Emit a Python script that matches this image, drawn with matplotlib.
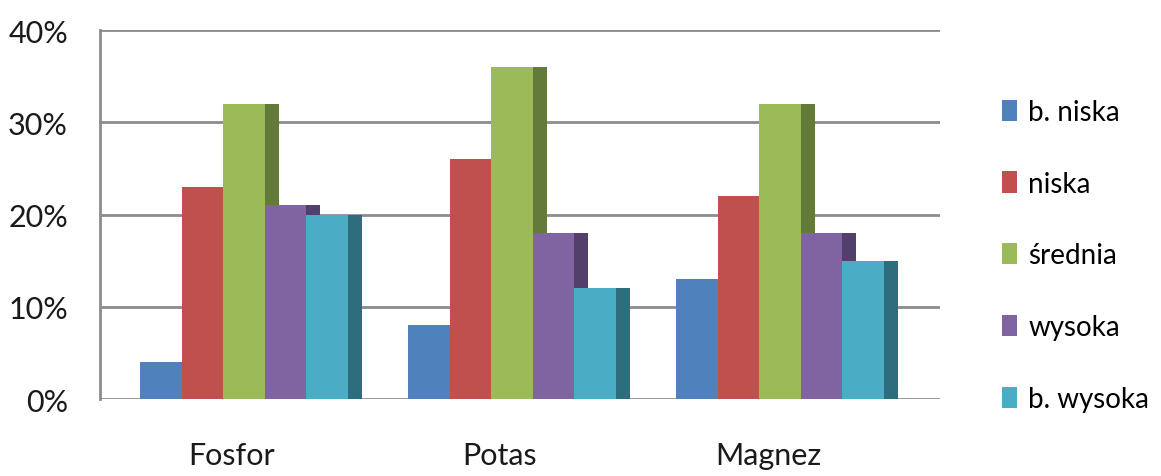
#!/usr/bin/env python3
"""Grouped pseudo-3D bar chart: nutrient content classes (Fosfor / Potas / Magnez)."""

import matplotlib

matplotlib.use("Agg")
import matplotlib.pyplot as plt
import numpy as np
from matplotlib.patches import Patch
from matplotlib.ticker import FuncFormatter

categories = ["Fosfor", "Potas", "Magnez"]
series = ["b. niska", "niska", "średnia", "wysoka", "b. wysoka"]
b_niska = [4, 8, 13]
niska = [23, 26, 22]
srednia = [32, 36, 32]
wysoka = [21, 18, 18]
b_wysoka = [20, 12, 15]
values = [b_niska, niska, srednia, wysoka, b_wysoka]
yticks = [0, 10, 20, 30, 40]

front_colors = ["#4F81BD", "#C0504D", "#9BBB59", "#8064A2", "#4BACC6"]
side_colors = ["#2F4D71", "#73302E", "#647A39", "#523F6C", "#2E6D7E"]

plt.rcParams["font.family"] = ["Lato", "DejaVu Sans"]

fig = plt.figure(figsize=(11.61, 4.77), dpi=100)
ax = fig.add_axes([0.0861, 0.1614, 0.7235, 0.7736])

x = np.arange(len(categories))
width = 0.155
depth = 0.052
shift = 0.045  # bars sit a bit right of the category label
start = x + shift - 2.5 * width

for i, (vals, fc, sc) in enumerate(zip(values, front_colors, side_colors)):
    left = start + i * width
    # side face first, next series' front covers it
    ax.bar(left + width, vals, width=depth, align="edge", color=sc,
           edgecolor="none", zorder=3 + i)
    ax.bar(left, vals, width=width, align="edge", color=fc,
           edgecolor="none", zorder=3 + i, label=series[i])

ax.set_ylim(0, 40)
ax.set_xlim(-0.4925, 2.642)
ax.set_yticks(yticks)
ax.yaxis.set_major_formatter(FuncFormatter(lambda v, _: f"{v:.0f}%"))
ax.set_xticks(x)
ax.set_xticklabels(categories)
ax.grid(axis="y", color="#8C8C8C", linewidth=2, zorder=0)
ax.set_axisbelow(True)

for s in ("top", "right", "bottom"):
    ax.spines[s].set_visible(False)
ax.spines["left"].set_color("#8C8C8C")
ax.spines["left"].set_linewidth(2)
ax.tick_params(axis="both", length=0, labelsize=22, colors="#1a1a1a")
ax.tick_params(axis="y", pad=23)
ax.tick_params(axis="x", pad=30)

handles = [Patch(facecolor=c, edgecolor="none", label=s) for c, s in zip(front_colors, series)]
fig.legend(handles=handles, loc="center left", bbox_to_anchor=(0.863, 0.4623),
           frameon=False, fontsize=20, handlelength=0.55, handleheight=0.8,
           handletextpad=0.4, labelspacing=1.65, borderpad=0, borderaxespad=0)

fig.savefig("out.png", dpi=100)
